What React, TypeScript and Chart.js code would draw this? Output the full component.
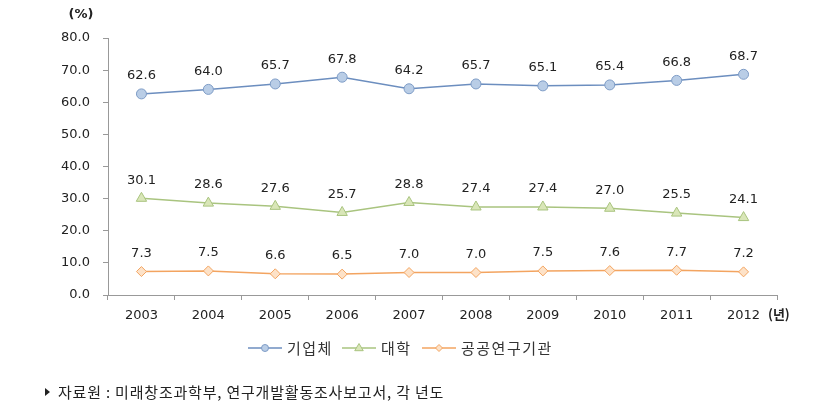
import React, { useEffect, useRef } from "react";
import { Chart, registerables } from "chart.js";

Chart.register(...registerables);

const years = ["2003", "2004", "2005", "2006", "2007", "2008", "2009", "2010", "2011", "2012"];
const corpValues = [62.6, 64.0, 65.7, 67.8, 64.2, 65.7, 65.1, 65.4, 66.8, 68.7];
const univValues = [30.1, 28.6, 27.6, 25.7, 28.8, 27.4, 27.4, 27.0, 25.5, 24.1];
const publicValues = [7.3, 7.5, 6.6, 6.5, 7.0, 7.0, 7.5, 7.6, 7.7, 7.2];
const seriesNames = ["기업체", "대학", "공공연구기관"];
const yUnit = "(%)";
const xUnit = "(년)";
const sourceText = "자료원 : 미래창조과학부, 연구개발활동조사보고서, 각 년도";

const NUM_FONT = '"DejaVu Sans", Verdana, sans-serif';
const KR_FONT = '"Noto Sans CJK KR", "Noto Sans", sans-serif';

const styles = [
  { line: "#6C8EBF", fill: "#B9CDE6", border: "#7E9CC6", shape: "circle", radius: 5 },
  { line: "#A9C47F", fill: "#D9E6B8", border: "#A9C47F", shape: "triangle", radius: 6 },
  { line: "#F3A460", fill: "#FDE2C8", border: "#F3A460", shape: "rectRot", radius: 5 },
];

function drawMarker(ctx: CanvasRenderingContext2D, shape: string, x: number, y: number, r: number, fill: string, stroke: string) {
  ctx.save();
  ctx.beginPath();
  if (shape === "circle") {
    ctx.arc(x, y, r, 0, Math.PI * 2);
  } else if (shape === "triangle") {
    ctx.moveTo(x, y - r);
    ctx.lineTo(x + r * 0.95, y + r * 0.6);
    ctx.lineTo(x - r * 0.95, y + r * 0.6);
    ctx.closePath();
  } else {
    ctx.moveTo(x, y - r);
    ctx.lineTo(x + r, y);
    ctx.lineTo(x, y + r);
    ctx.lineTo(x - r, y);
    ctx.closePath();
  }
  ctx.fillStyle = fill;
  ctx.fill();
  ctx.strokeStyle = stroke;
  ctx.lineWidth = 1;
  ctx.stroke();
  ctx.restore();
}

const extrasPlugin = {
  id: "extras",
  afterDatasetsDraw(chart: any) {
    const ctx: CanvasRenderingContext2D = chart.ctx;
    ctx.save();
    // data labels
    ctx.font = `13px ${NUM_FONT}`;
    ctx.fillStyle = "#222";
    ctx.textAlign = "center";
    ctx.textBaseline = "middle";
    chart.data.datasets.forEach((ds: any, i: number) => {
      const meta = chart.getDatasetMeta(i);
      meta.data.forEach((pt: any, j: number) => {
        ctx.fillText(Number(ds.data[j]).toFixed(1), pt.x, pt.y - 18);
      });
    });
    // units
    ctx.font = `bold 13px ${NUM_FONT}`;
    ctx.fillStyle = "#222";
    ctx.textAlign = "center";
    ctx.fillText(yUnit, 81, 15);
    ctx.font = `bold 13px ${KR_FONT}`;
    ctx.textAlign = "left";
    ctx.fillText(xUnit, 768, 314);

    // legend
    const items = [
      { x: 248, tx: 287 },
      { x: 342, tx: 381 },
      { x: 422, tx: 461 },
    ];
    const ly = 348;
    items.forEach((it, i) => {
      const s = styles[i];
      ctx.beginPath();
      ctx.strokeStyle = s.line;
      ctx.lineWidth = 1.5;
      ctx.moveTo(it.x, ly);
      ctx.lineTo(it.x + 34, ly);
      ctx.stroke();
      drawMarker(ctx, s.shape, it.x + 17, ly, s.shape === "triangle" ? 4.5 : 3.5, s.fill, s.border);
      ctx.font = `15px ${KR_FONT}`;
      (ctx as any).letterSpacing = "1.5px";
      ctx.fillStyle = "#333";
      ctx.textAlign = "left";
      ctx.textBaseline = "middle";
      ctx.fillText(seriesNames[i], it.tx, ly);
      (ctx as any).letterSpacing = "0px";
    });

    // source
    ctx.beginPath();
    ctx.fillStyle = "#222";
    ctx.moveTo(45, 388);
    ctx.lineTo(50, 392);
    ctx.lineTo(45, 396);
    ctx.closePath();
    ctx.fill();
    ctx.font = `15px ${KR_FONT}`;
    (ctx as any).letterSpacing = "0.8px";
    ctx.textAlign = "left";
    ctx.textBaseline = "middle";
    ctx.fillText(sourceText, 58, 392);
    (ctx as any).letterSpacing = "0px";
    ctx.restore();
  },
};

export default function App() {
  const ref = useRef<HTMLCanvasElement | null>(null);
  useEffect(() => {
    if (!ref.current) return;
    const seriesData = [corpValues, univValues, publicValues];
    const chart = new Chart(ref.current, {
      type: "line",
      data: {
        labels: years,
        datasets: seriesData.map((d, i) => ({
          label: seriesNames[i],
          data: d,
          borderColor: styles[i].line,
          borderWidth: 1.5,
          pointStyle: styles[i].shape as any,
          pointRadius: styles[i].radius,
          pointBackgroundColor: styles[i].fill,
          pointBorderColor: styles[i].border,
          pointBorderWidth: 1,
          tension: 0,
        })),
      },
      options: {
        responsive: false,
        animation: false,
        layout: { padding: { left: 0, top: 38, right: 44, bottom: 85 } },
        plugins: { legend: { display: false }, tooltip: { enabled: false } },
        scales: {
          x: {
            offset: true,
            grid: { offset: true, drawOnChartArea: false, tickLength: 5, color: "#999" },
            border: { color: "#999" },
            ticks: { color: "#222", font: { family: NUM_FONT, size: 13 }, padding: 8, maxRotation: 0 },
            afterFit: (s: any) => { s.height = 30; },
          },
          y: {
            min: 0,
            max: 80,
            grid: { drawOnChartArea: false, tickLength: 5, color: "#999" },
            border: { color: "#999" },
            ticks: {
              stepSize: 10,
              color: "#222",
              font: { family: NUM_FONT, size: 13 },
              padding: 13,
              callback: (v: any) => Number(v).toFixed(1),
            },
            afterFit: (s: any) => { s.width = 108; },
          },
        },
      },
      plugins: [extrasPlugin],
    });
    return () => chart.destroy();
  }, []);
  return (
    <div style={{ position: "absolute", left: 0, top: 0, width: 821, height: 410, background: "#fff" }}>
      <canvas ref={ref} width={821} height={410} style={{ display: "block" }} />
    </div>
  );
}
